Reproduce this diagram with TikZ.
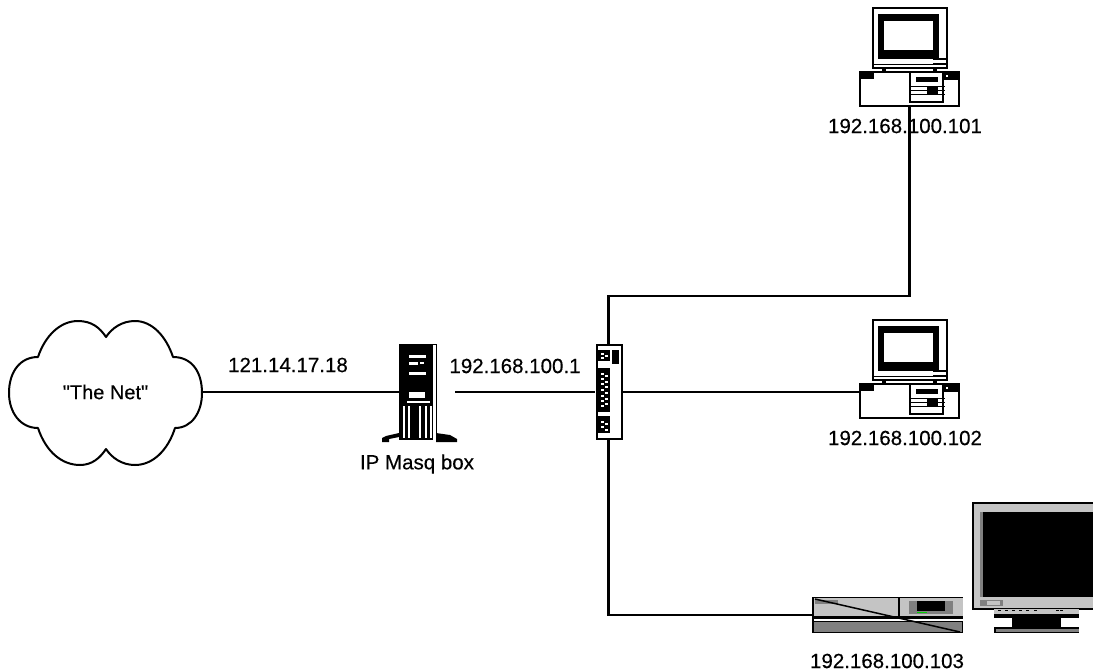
\documentclass[tikz,border=0pt]{standalone}
\usepackage{fontspec}
\setmainfont{Liberation Sans}[Ligatures=TeXOff,FakeBold=0.35]
\tikzset{
    wire/.style={black, line width=2.3pt},
    addr/.style={inner sep=0pt, font=\addfontfeature{FakeBold=0.35}\fontsize{20.5}{24}\selectfont},
    devbox/.style={inner sep=0pt, outer sep=0pt},
    pics/deskpc/.style={code={
        % Monitor
        \filldraw[fill=white, draw=black, line width=2pt] (13,0) rectangle (87,60);
        \fill[black] (18,6) rectangle (79,51);
        \fill[white] (24,13) rectangle (73,42);
        \fill[black] (73,50) rectangle (86,52);
        \fill[black] (73,55) rectangle (86,57);
        \fill[black] (14,56) rectangle (86,57);
        % Stand
        \fill[black] (22,60) rectangle (26,65);
        \fill[black] (73,60) rectangle (77,65);
        \draw[black, line width=1pt] (22,63) -- (77,63);
        % Case
        \filldraw[fill=white, draw=black, line width=2pt] (0,64) rectangle (99,98);
        \fill[black] (0,64) rectangle (14,71);
        \fill[black] (83,64) rectangle (99,72);
        \fill[white] (86,67) rectangle (88,69);
        % Drive panel
        \draw[black, line width=2pt] (50,64) rectangle (83,94);
        \fill[black] (56,69) rectangle (78,74);
        \foreach \y in {78,82,86}
            \draw[black, line width=1pt] (50,\y) -- (85,\y);
        \fill[black] (67,78) rectangle (78,86);
    }}
}
\begin{document}
\begin{tikzpicture}[x=1pt,y=-1pt]
    % Define colours
    \definecolor{bezelColour}{HTML}{C4C4C4}
    \definecolor{lowerColour}{HTML}{808080}
    \definecolor{ledColour}{HTML}{00D000}

    \useasboundingbox (0,0) rectangle (1093,672);

    % Draw the cloud
    \draw[black, line width=2pt, line join=round] (38,357)
        .. controls (20,357) and (9,372) .. (9,393)
        .. controls (9,412) and (20,428) .. (38,428)
        .. controls (46,452) and (62,465) .. (80,465)
        .. controls (92,465) and (100,458) .. (106,449)
        .. controls (112,458) and (122,465) .. (135,465)
        .. controls (153,465) and (168,450) .. (175,428)
        .. controls (192,428) and (202,412) .. (202,393)
        .. controls (202,372) and (192,357) .. (173,357)
        .. controls (166,336) and (152,321) .. (135,321)
        .. controls (122,321) and (112,328) .. (106,337)
        .. controls (100,328) and (92,321) .. (78,321)
        .. controls (60,321) and (45,336) .. (38,357) -- cycle;
    \node[addr, minimum width=193pt, minimum height=144pt, font=\addfontfeature{FakeBold=0.35}\fontsize{20}{24}\selectfont] (net) at (105.5,392) {"The Net"};

    % Draw the server
    \fill[black] (399,344) rectangle (433,440);
    \draw[black, line width=1pt] (433,344) -- (436,344) -- (436,440);
    \fill[black] (382,438) -- (386,436) -- (399,433) -- (399,437) -- (389,439) -- (389,442) -- (382,442) -- cycle;
    \fill[black] (436,433) -- (450,435) -- (457,439) -- (457,442) -- (436,442) -- cycle;
    \fill[white] (409,355) rectangle (426,358);
    \fill[white] (409,362) rectangle (418,365);
    \fill[white] (420,362) rectangle (424,364);
    \fill[white] (409,372) rectangle (426,375);
    \fill[white] (409,392) rectangle (425,398);
    \fill[white] (407,401) rectangle (430,403);
    \foreach \x in {403,408,419,425,430}
        \fill[white] (\x,406) rectangle (\x+1.5,438);
    \node[devbox, minimum width=37pt, minimum height=96pt] (masq) at (417.5,392) {};
    \coordinate (masqOut) at (455,392);

    % Draw the hub
    \filldraw[fill=white, draw=black, line width=2pt] (597,345) rectangle (622,439);
    \fill[black] (598,350) rectangle (610,361);
    \fill[black] (612,350) rectangle (619,364);
    \fill[black] (598,368) rectangle (610,412);
    \fill[black] (598,416) rectangle (610,433);
    \foreach \y in {353,357,373,378,383,389,395,400,405,421,426}
        \fill[white] (601,\y) rectangle (604,\y+1.5);
    \foreach \y in {355,375,381,386,392,398,403,423,429}
        \fill[white] (605,\y) rectangle (608,\y+1.5);
    \node[devbox, minimum width=27pt, minimum height=96pt] (hub) at (608.5,392) {};

    % Draw the two desktops
    \pic at (860,8) {deskpc};
    \pic at (860,320) {deskpc};
    \node[devbox, minimum width=99pt, minimum height=34pt] (pcA) at (909.5,89) {};
    \node[devbox, minimum width=99pt, minimum height=34pt] (pcB) at (909.5,401) {};

    % Draw the set top box
    \fill[bezelColour] (812,598) rectangle (963,616);
    \fill[lowerColour] (812,622) rectangle (963,632);
    \fill[black] (812,616) rectangle (963,619);
    \draw[black, line width=1pt] (812,597.5) -- (963,597.5);
    \draw[black, line width=1pt] (812,621) -- (963,621);
    \draw[black, line width=1pt] (812,632.5) -- (963,632.5);
    \draw[black, line width=1.5pt] (813,598) -- (813,632);
    \draw[black, line width=1pt] (962.5,622) -- (962.5,632);
    \fill[lowerColour] (815,600) rectangle (838,604);
    \draw[black, line width=1.5pt] (815,599) -- (960,632);
    \draw[black, line width=1.5pt] (899,597) -- (899,616);
    \fill[lowerColour] (909,601) rectangle (953,614);
    \fill[black] (917,601) rectangle (945,611);
    \fill[ledColour] (917,611.5) rectangle (927,613);
    \node[devbox, minimum width=151pt, minimum height=36pt] (stb) at (887.5,615) {};

    % Draw the flat screen
    \filldraw[fill=bezelColour, draw=black, line width=1.5pt] (973,503) rectangle (1094,609);
    \fill[lowerColour] (980,512) rectangle (983,597);
    \fill[black] (983,512) rectangle (1093,597);
    \fill[lowerColour] (980,600) rectangle (1003,606);
    \fill[bezelColour] (987,601) rectangle (1000,605);
    \fill[bezelColour] (994,609) rectangle (1079,614);
    \fill[black] (994,614) rectangle (1079,618);
    \foreach \x in {998,1005,1012,1019,1026,1034,1056,1060}
        \fill[black] (\x,609.5) rectangle (\x+3,611);
    \fill[black] (1012,618) rectangle (1061,627);
    \fill[black] (994,627) rectangle (1079,633);
    \fill[lowerColour] (996,629) rectangle (1079,632);

    % Route the wires
    \coordinate (turnA) at (608.5,296);
    \draw[wire] (net.east) -- (masq.west);
    \draw[wire] (masqOut) -- (hub.west);
    \draw[wire] (pcA.south) |- (turnA) -- (hub.north);
    \draw[wire] (hub.east) -- (hub.east -| pcB.west);
    \draw[wire] (hub.south) |- (stb.west);

    % Label the addresses
    \node[addr] (wanAddr) at (288,365) {121.14.17.18};
    \node[addr] (lanAddr) at (515,366) {192.168.100.1};
    \node[addr] (masqName) at (417,464) {IP Masq box};
    \node[addr] (addrA) at (905,126) {192.168.100.101};
    \node[addr] (addrB) at (905,438) {192.168.100.102};
    \node[addr] (addrC) at (887,661) {192.168.100.103};
\end{tikzpicture}
\end{document}
